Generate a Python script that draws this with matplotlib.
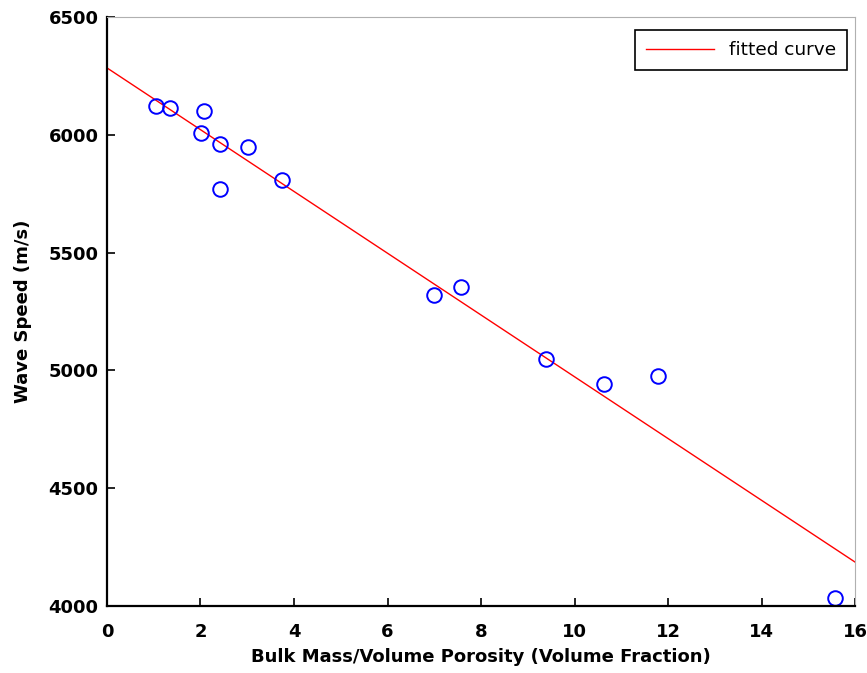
import numpy as np
import matplotlib
matplotlib.use("Agg")
from matplotlib import pyplot as plt

# measured porosity vs wave speed
porosity = [1.05, 1.35, 2.07, 2.01, 2.42, 2.42, 3.02, 3.74,
            6.99, 7.57, 9.39, 10.63, 11.79, 15.57]
speed = [6122, 6115, 6101, 6006, 5961, 5770, 5947, 5808,
         5318, 5355, 5047, 4944, 4975, 4034]

# fitted line
fit_intercept = 6284
fit_slope = -131.1
fit_x = [0, 16]

fig = plt.figure(figsize=(8.67, 6.73), dpi=100)
ax = fig.add_axes([0.1234, 0.0996, 0.8628, 0.8751])

xs = np.array(fit_x)
ax.plot(xs, fit_intercept + fit_slope * xs, color='red', lw=1.0, label='fitted curve')
ax.plot(porosity, speed, 'o', mfc='none', mec='blue', mew=1.4, ms=10.5)

ax.set_xlim(0, 16)
ax.set_ylim(4000, 6500)
ax.set_xticks(range(0, 17, 2))
ax.set_yticks(range(4000, 6501, 500))

for s in ['top', 'right']:
    ax.spines[s].set_color('#b0b0b0')
    ax.spines[s].set_linewidth(0.8)
for s in ['left', 'bottom']:
    ax.spines[s].set_linewidth(1.6)
ax.tick_params(direction='in', length=6, width=1.2)
ax.tick_params(axis='x', pad=12)
ax.tick_params(axis='y', pad=6)

tick_font = dict(family='DejaVu Sans', weight='bold', size=13)
for lab in ax.get_xticklabels() + ax.get_yticklabels():
    lab.set_fontweight('bold')
    lab.set_fontsize(13)

ax.set_xlabel('Bulk Mass/Volume Porosity (Volume Fraction)', fontdict=tick_font, labelpad=5)
ax.set_ylabel('Wave Speed (m/s)', fontdict=tick_font, labelpad=12)

leg = ax.legend(loc='upper right', bbox_to_anchor=(0.9893, 0.978), fancybox=False,
                framealpha=1, edgecolor='black', prop={'family': 'DejaVu Sans', 'size': 13.3},
                handlelength=3.7, borderaxespad=0, borderpad=0.6)
leg.get_frame().set_linewidth(1.2)

fig.savefig('out.png', dpi=100)
